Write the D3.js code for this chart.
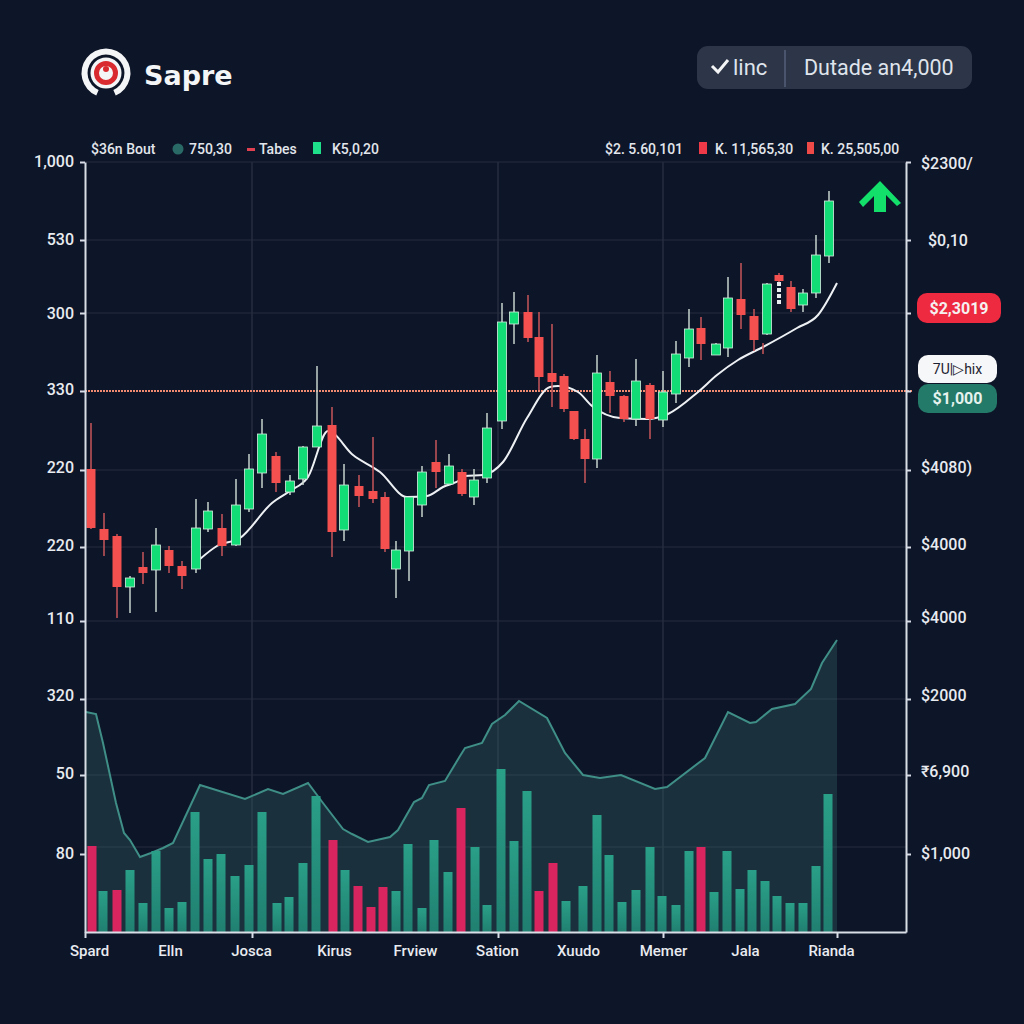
<!DOCTYPE html>
<html>
<head>
<meta charset="utf-8">
<title>Sapre</title>
<script src="https://cdn.jsdelivr.net/npm/d3@7"></script>
<style>
  body { margin: 0; background: #0d1528; }
  svg { display: block; }
  text { font-family: Roboto, sans-serif; }
  .axis path, .axis line { stroke: #d8dde6; stroke-width: 2; }
  .axis text { fill: #e8ebf0; font-size: 16px; font-weight: 500; }
  .x-labels text { font-size: 15px; }
  .legend text { fill: #e2e6ec; font-size: 14px; font-weight: 500; }
</style>
</head>
<body>
<div id="container"></div>
<script>
/* DATA */
// price and volume are read in axis units, time in session units
const candleTime = [6,19,32,45,58,71,84,97,111,123,137,151,164,177,191,205,218,232,247,259,274,288,300,311,324,337,351,364,377,389,402,417,429,443,454,467,479,489,500,512,525,539,551,565,578,591,604,616,631,643,656,669,682,694,706,718,731,744];
const candleOpen = [463,403,396,345,365,362,382,366,363,403,404,387,423,459,476,440,453,485,507,402,446,441,435,363,381,427,470,448,460,435,454,511,608,620,595,559,556,521,493,473,550,536,513,547,512,538,574,604,577,584,633,616,598,657,645,627,639,676];
const candleClose = [404,392,345,354,359,387,366,356,404,421,386,427,463,498,449,451,485,506,400,447,436,433,383,382,435,460,460,466,438,452,504,610,620,594,555,550,523,493,473,559,536,513,551,513,540,578,603,588,588,634,617,592,648,651,623,639,677,731];
const candleHigh = [509,419,398,356,380,404,386,371,433,430,418,453,478,513,480,457,486,566,525,468,457,495,440,391,435,466,492,478,463,463,519,629,640,637,620,608,558,521,503,577,561,537,573,549,561,591,623,615,589,655,669,623,649,659,651,643,697,741];
const candleLow = [403,376,314,319,348,320,359,343,359,400,376,386,420,444,440,437,447,485,375,391,425,429,380,334,351,415,444,447,436,427,449,503,588,590,542,525,520,492,449,464,519,510,506,493,505,529,565,572,577,575,603,581,597,648,620,620,634,669];

// the two stray wicks near the last candles
const strayTime = [678,694];
const strayHigh = [589,650];
const strayLow = [578,628];
const strayColors = ["#c9565a","#e8eef0"];

const maTime = [115,132,155,187,205,223,243,268,295,322,342,358,375,380,398,418,442,465,473,493,507,535,562,583,613,632,653,678,712,733,752];
const maValue = [373,386,394,429,441,455,501,477,460,435,436,445,452,456,457,470,514,545,546,540,526,514,513,518,540,557,572,585,604,617,649];

const volumeTime = [7,18,32,45,58,71,84,97,110,123,136,150,164,177,192,204,218,231,248,260,273,286,298,311,323,337,349,363,376,390,402,416,429,442,454,468,481,498,512,524,537,551,565,577,591,604,616,629,642,655,667,680,692,705,718,731,743];
const volumeValue = [86,41,42,62,29,81,24,30,120,73,78,56,67,120,29,35,69,136,92,62,46,25,45,41,88,24,92,60,124,85,27,163,91,141,41,69,31,46,117,77,30,42,85,36,27,81,85,40,81,43,62,51,36,29,29,66,138];
const volumeDown = [0,2,18,20,21,22,28,34,35,46];

const areaTime = [1,11,18,31,39,45,55,66,78,88,115,160,183,198,223,238,258,267,283,305,313,329,337,344,360,375,380,397,407,420,434,462,480,498,515,536,570,582,620,643,665,671,687,710,726,737,752];
const areaValue = [220,218,189,129,99,92,75,79,84,89,147,133,143,138,149,129,103,98,90,95,102,130,134,147,151,176,184,189,208,217,231,214,179,157,154,157,143,145,174,220,209,210,223,228,243,269,292];

const leftTicks = [770,692,619,541,462,385,311,233,157,78];
const leftLabels = ["1,000","530","300","330","220","220","110","320","50","80"];
const rightTicks = [770,692,619,541,462,385,311,233,157,78];
const rightLabels = ["$2300/","$0,10","","","$4080)","$4000","$4000","$2000","₹6,900","$1,000"];
const gridPrices = [770,692,619,462,385,311,233,157,85];
const gridTimes = [167,413,578];
const majorTimes = [0,167,413,578,752];
const labelTimes = [4,85,166,249,330,412,493,578,660,746];
const categories = ["Spard","Elln","Josca","Kirus","Frview","Sation","Xuudo","Memer","Jala","Rianda"];
const referencePrice = 541;

/* CONSTANTS */
const width = 1024,
  height = 1024,
  margin = { top: 162, bottom: 92, left: 85, right: 118 },
  candleWidth = 9,
  barWidth = 9,
  upColor = "#12dc76",
  downColor = "#f4504f",
  gridColor = "#262d3f",
  leftLabelShift = [-1,-1,0,-2,-2.5,-2,-3,-3.5,-2,-1],
  rightLabelShift = [1,0,0,0,-3,-3,-3.5,-4,-3.5,-1];

const svg = d3.select("#container")
  .append("svg")
  .attr("width", width)
  .attr("height", height);

/* SCALES */
const xScale = d3.scaleLinear()
  .domain([0, 821])
  .range([margin.left, width - margin.right]);

const yScale = d3.scaleLinear()
  .domain([0, 770])
  .range([height - margin.bottom, margin.top]);

const defs = svg.append("defs");
const barGradient = defs.append("linearGradient")
  .attr("id", "bar-gradient")
  .attr("x1", 0).attr("x2", 0).attr("y1", 0).attr("y2", 1);
barGradient.append("stop").attr("offset", "0%").attr("stop-color", "#2a9f88");
barGradient.append("stop").attr("offset", "100%").attr("stop-color", "#207f70");

/* GRID */
svg.append("g").selectAll("line")
  .data(gridPrices)
  .join("line")
  .attr("x1", xScale(0))
  .attr("x2", xScale(821))
  .attr("y1", d => yScale(d))
  .attr("y2", d => yScale(d))
  .attr("stroke", gridColor);

svg.append("g").selectAll("line")
  .data(gridTimes)
  .join("line")
  .attr("x1", d => xScale(d))
  .attr("x2", d => xScale(d))
  .attr("y1", yScale(770))
  .attr("y2", yScale(0))
  .attr("stroke", gridColor)
  .attr("stroke-width", 1.5);

/* VOLUME AREA */
const areaPoints = areaTime.map((t, i) => [t, areaValue[i]]);

svg.append("path")
  .datum(areaPoints)
  .attr("fill", "rgba(50,100,100,0.36)")
  .attr("d", d3.area().x(d => xScale(d[0])).y0(yScale(0)).y1(d => yScale(d[1])));

svg.append("path")
  .datum(areaPoints)
  .attr("fill", "none")
  .attr("stroke", "#3f8f87")
  .attr("stroke-width", 2)
  .attr("d", d3.line().x(d => xScale(d[0])).y(d => yScale(d[1])));

/* VOLUME BARS */
svg.append("g").selectAll("rect")
  .data(volumeValue)
  .join("rect")
  .attr("x", (d, i) => xScale(volumeTime[i]) - barWidth / 2)
  .attr("y", d => yScale(d))
  .attr("width", barWidth)
  .attr("height", d => yScale(0) - yScale(d))
  .attr("fill", (d, i) => volumeDown.includes(i) ? "#d8245f" : "url(#bar-gradient)");

/* REFERENCE LINE */
svg.append("line")
  .attr("x1", xScale(0))
  .attr("x2", xScale(827))
  .attr("y1", yScale(referencePrice))
  .attr("y2", yScale(referencePrice))
  .attr("stroke", "#f08a70")
  .attr("stroke-width", 2)
  .attr("stroke-dasharray", "2,1");

/* MOVING AVERAGE */
svg.append("path")
  .datum(maTime.map((t, i) => [t, maValue[i]]))
  .attr("fill", "none")
  .attr("stroke", "#eef1f4")
  .attr("stroke-width", 2)
  .attr("d", d3.line().curve(d3.curveMonotoneX).x(d => xScale(d[0])).y(d => yScale(d[1])));

/* CANDLES */
const candles = svg.append("g").selectAll("g")
  .data(candleTime.map((t, i) => ({
    time: t,
    open: candleOpen[i],
    close: candleClose[i],
    high: candleHigh[i],
    low: candleLow[i],
    up: candleClose[i] > candleOpen[i]
  })))
  .join("g");

candles.append("line")
  .attr("x1", d => xScale(d.time))
  .attr("x2", d => xScale(d.time))
  .attr("y1", d => yScale(d.high))
  .attr("y2", d => yScale(d.low))
  .attr("stroke", d => d.up ? "#c6d2cd" : "#c9565a")
  .attr("stroke-width", 1.5);

candles.append("rect")
  .attr("x", d => xScale(d.time) - candleWidth / 2)
  .attr("y", d => yScale(Math.max(d.open, d.close)))
  .attr("width", candleWidth)
  .attr("height", d => Math.abs(yScale(d.open) - yScale(d.close)))
  .attr("fill", d => d.up ? upColor : downColor)
  .attr("stroke", d => d.up ? "#d5f0e2" : "none")
  .attr("stroke-width", 0.8);

svg.append("g").selectAll("line")
  .data(strayTime)
  .join("line")
  .attr("x1", d => xScale(d))
  .attr("x2", d => xScale(d))
  .attr("y1", (d, i) => yScale(strayHigh[i]))
  .attr("y2", (d, i) => yScale(strayLow[i]))
  .attr("stroke", (d, i) => strayColors[i])
  .attr("stroke-width", (d, i) => i === 1 ? 4 : 1.5)
  .attr("stroke-dasharray", (d, i) => i === 1 ? "4,2" : null);

/* AXES */
const yAxisLeft = d3.axisLeft(yScale)
  .tickValues(leftTicks)
  .tickFormat((d, i) => leftLabels[i])
  .tickSize(5)
  .tickPadding(6)
  .tickSizeOuter(0);

svg.append("g")
  .attr("class", "axis y-axis")
  .attr("transform", `translate(${margin.left},0)`)
  .call(yAxisLeft)
  .selectAll("text")
  .attr("y", (d, i) => leftLabelShift[i]);

const yAxisRight = d3.axisRight(yScale)
  .tickValues(rightTicks)
  .tickFormat((d, i) => rightLabels[i])
  .tickSize(5)
  .tickPadding(10)
  .tickSizeOuter(0);

svg.append("g")
  .attr("class", "axis y-axis-right")
  .attr("transform", `translate(${width - margin.right},0)`)
  .call(yAxisRight)
  .selectAll("text")
  .attr("dx", (d, i) => i === 1 ? 7 : 0)
  .attr("y", (d, i) => rightLabelShift[i]);

svg.append("g")
  .attr("class", "axis x-ticks")
  .attr("transform", `translate(0,${height - margin.bottom})`)
  .call(d3.axisBottom(xScale).tickValues(majorTimes).tickFormat("").tickSize(6).tickSizeOuter(0));

const xLabels = svg.append("g")
  .attr("class", "axis x-labels")
  .attr("transform", `translate(0,${height - margin.bottom})`)
  .call(d3.axisBottom(xScale)
    .tickValues(labelTimes)
    .tickFormat((d, i) => categories[i])
    .tickSize(0)
    .tickPadding(13));
xLabels.select(".domain").remove();

/* HEADER */
const logo = svg.append("g").attr("transform", "translate(106,73)");
logo.append("path")
  .attr("fill", "#f4f5f6")
  .attr("d", d3.arc().innerRadius(18.5).outerRadius(24.5).startAngle(Math.PI * 1.13).endAngle(Math.PI * 2.87)());
logo.append("circle").attr("r", 15.5).attr("fill", "#f4f5f6");
logo.append("circle").attr("r", 9.5).attr("fill", "none").attr("stroke", "#d92b2f").attr("stroke-width", 5);
logo.append("circle").attr("r", 3).attr("cy", -4).attr("fill", "#d92b2f");

svg.append("text")
  .attr("x", 144)
  .attr("y", 85)
  .attr("fill", "#f4f5f6")
  .style("font-family", "'DejaVu Sans', sans-serif")
  .style("font-weight", 700)
  .style("font-size", "27px")
  .text("Sapre");

svg.append("rect")
  .attr("x", 697).attr("y", 46)
  .attr("width", 275).attr("height", 43)
  .attr("rx", 11)
  .attr("fill", "#2d3648");

svg.append("path")
  .attr("d", "M712,66 L718,72 L728,60")
  .attr("fill", "none")
  .attr("stroke", "#f4f5f6")
  .attr("stroke-width", 3);

svg.append("line")
  .attr("x1", 785).attr("x2", 785)
  .attr("y1", 50).attr("y2", 87)
  .attr("stroke", "#55607a")
  .attr("stroke-width", 1.5);

svg.append("text")
  .attr("x", 733).attr("y", 75)
  .attr("fill", "#dfe4ec")
  .style("font-size", "22px")
  .style("font-weight", 400)
  .text("linc");

svg.append("text")
  .attr("x", 804).attr("y", 75)
  .attr("fill", "#dfe4ec")
  .style("font-size", "21.5px")
  .style("font-weight", 400)
  .text("Dutade an4,000");

/* LEGEND ROW */
const legend = svg.append("g").attr("class", "legend");
const legendTexts = [
  ["$36n Bout", 91], ["750,30", 189], ["Tabes", 259], ["K5,0,20", 332],
  ["$2. 5.60,101", 605], ["K. 11,565,30", 715], ["K. 25,505,00", 821]
];
legend.selectAll("text")
  .data(legendTexts)
  .join("text")
  .attr("x", d => d[1])
  .attr("y", 154)
  .text(d => d[0]);

legend.append("circle").attr("cx", 178).attr("cy", 149).attr("r", 5.5).attr("fill", "#2a6a66");
legend.append("rect").attr("x", 247).attr("y", 148).attr("width", 8).attr("height", 3).attr("fill", "#e04050");
legend.append("rect").attr("x", 313).attr("y", 142).attr("width", 8).attr("height", 12).attr("fill", "#1fe08a");
legend.append("rect").attr("x", 699).attr("y", 142).attr("width", 8).attr("height", 12).attr("fill", "#ee3a48");
legend.append("rect").attr("x", 807).attr("y", 142).attr("width", 7).attr("height", 12).attr("fill", "#ee4a48");

/* ARROW */
svg.append("path")
  .attr("fill", "#12e06b")
  .attr("d", "M880,181 L901,203 L897,206 L886,195 L886,212 L874,212 L874,196 L863,207 L859,202 Z");

/* BADGES */
function badge(x, y, w, h, fill, color, weight, size, label) {
  svg.append("rect")
    .attr("x", x).attr("y", y)
    .attr("width", w).attr("height", h)
    .attr("rx", 10)
    .attr("fill", fill);
  svg.append("text")
    .attr("x", x + w / 2)
    .attr("y", y + h / 2 + size * 0.36)
    .attr("text-anchor", "middle")
    .attr("fill", color)
    .style("font-weight", weight)
    .style("font-size", size + "px")
    .text(label);
}

badge(917, 293, 84, 30, "#ee2a41", "#f6f0f0", 700, 16, "$2,3019");
badge(918, 384, 79, 29, "#247a68", "#e6f2ee", 700, 16, "$1,000");
badge(918, 355, 79, 28, "#f6f7f8", "#1c2230", 400, 14, "7U|▷hix");
</script>
</body>
</html>
